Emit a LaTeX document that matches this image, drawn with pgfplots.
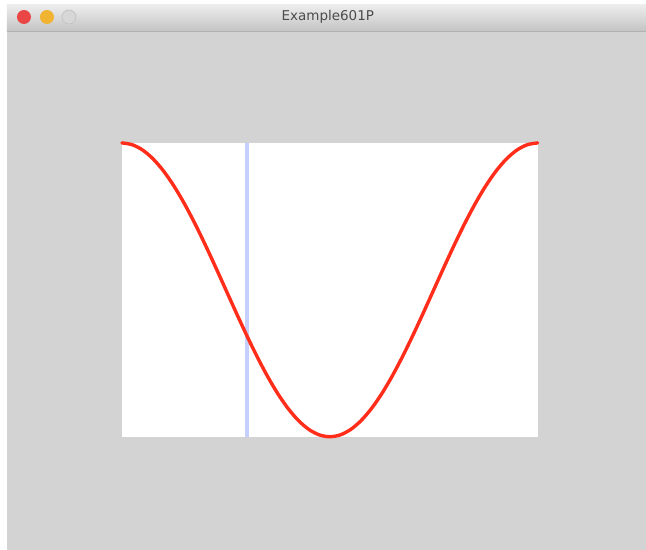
\documentclass[border=0pt]{standalone}
\usepackage{pgfplots}
\pgfplotsset{compat=1.18}
\usepackage{fontspec}
\setmainfont{DejaVu Sans}
\definecolor{winbg}{RGB}{211,211,211}
\definecolor{bartop}{RGB}{238,238,238}
\definecolor{barbot}{RGB}{196,196,196}
\definecolor{curvered}{RGB}{255,45,25}
\definecolor{lineblue}{RGB}{198,208,255}
\definecolor{btnred}{RGB}{235,70,70}
\definecolor{btnyel}{RGB}{240,180,50}
\definecolor{btngray}{RGB}{215,215,215}
\begin{document}
\begin{tikzpicture}
\begin{axis}[
  name=outer,
  anchor=south west, at={(0pt,0pt)},
  width=646pt, height=550pt, scale only axis,
  xmin=0, xmax=646, ymin=0, ymax=550, y dir=reverse,
  axis lines=none, ticks=none, clip=false]
  \fill[white] (axis cs:0,0) rectangle (axis cs:646,550);
  \fill[winbg] (axis cs:7,4) rectangle (axis cs:646,550);
  \shade[top color=bartop, bottom color=barbot] (axis cs:7,4) rectangle (axis cs:646,31);
  \draw[black!30, line width=0.8pt] (axis cs:7,31) -- (axis cs:646,31);
  \fill[btnred] (axis cs:24,17) circle[radius=7pt];
  \fill[btnyel] (axis cs:47,17) circle[radius=7pt];
  \fill[btngray] (axis cs:69,17) circle[radius=7pt];
  \draw[black!25, line width=0.6pt] (axis cs:69,17) circle[radius=7pt];
  \node[text=black!70, font=\fontsize{13.5}{15}\selectfont] at (axis cs:328,17) {Example601P};
\end{axis}
\begin{axis}[
  anchor=south west, at={(122pt,113pt)},
  width=416pt, height=294pt, scale only axis,
  xmin=0, xmax=1, ymin=-1, ymax=1,
  axis lines=none, ticks=none, clip=false,
  axis background/.style={fill=white}]
  \addplot[lineblue, line width=4pt] coordinates {(0.302,-1) (0.302,1)};
  \addplot[curvered, line width=3.4pt, smooth, line cap=round] coordinates {
    (0,1) (0.025,0.9877) (0.05,0.9511) (0.075,0.8910) (0.1,0.8090)
    (0.125,0.7071) (0.15,0.5878) (0.175,0.4540) (0.2,0.3090) (0.225,0.1564)
    (0.25,0) (0.275,-0.1564) (0.3,-0.3090) (0.325,-0.4540) (0.35,-0.5878)
    (0.375,-0.7071) (0.4,-0.8090) (0.425,-0.8910) (0.45,-0.9511) (0.475,-0.9877)
    (0.5,-1) (0.525,-0.9877) (0.55,-0.9511) (0.575,-0.8910) (0.6,-0.8090)
    (0.625,-0.7071) (0.65,-0.5878) (0.675,-0.4540) (0.7,-0.3090) (0.725,-0.1564)
    (0.75,0) (0.775,0.1564) (0.8,0.3090) (0.825,0.4540) (0.85,0.5878)
    (0.875,0.7071) (0.9,0.8090) (0.925,0.8910) (0.95,0.9511) (0.975,0.9877)
    (1,1)};
\end{axis}
\end{tikzpicture}
\end{document}
